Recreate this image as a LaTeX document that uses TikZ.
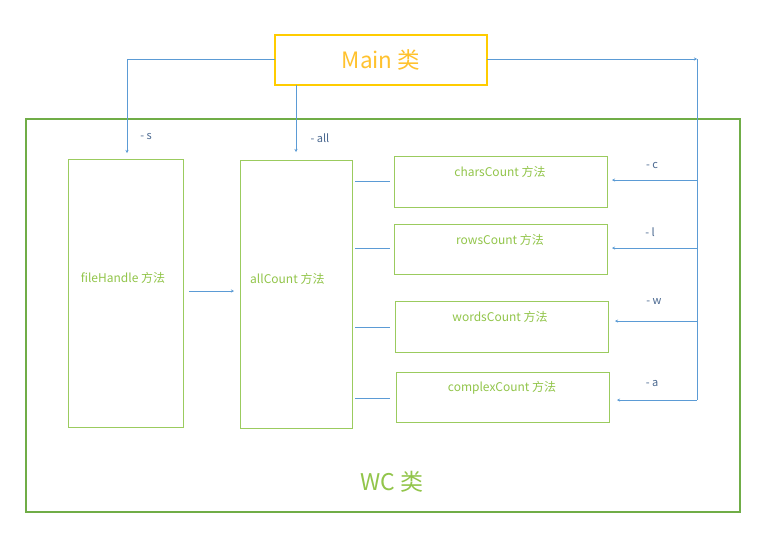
\documentclass[tikz,border=0pt]{standalone}
\usepackage{fontspec}
\setmainfont{Noto Sans CJK SC}
\usetikzlibrary{arrows.meta}
\definecolor{conn}{HTML}{5B9BD5}
\definecolor{outergreen}{HTML}{70AD47}
\definecolor{boxgreen}{HTML}{9BCB5E}
\definecolor{txtgreen}{HTML}{92C54A}
\definecolor{mainyellow}{HTML}{FFCC00}
\definecolor{maintext}{HTML}{FFC22E}
\definecolor{lbl}{HTML}{4A6890}
\tikzset{
  methodbox/.style={draw=boxgreen, line width=0.8pt, rectangle},
  mtext/.style={text=txtgreen, font=\fontsize{12}{14}\selectfont, inner sep=0pt},
  conline/.style={draw=conn, line width=0.7pt},
  conarrow/.style={conline, -{Stealth[length=3pt,width=3pt]}},
  lbltext/.style={text=lbl, font=\fontsize{11}{13}\selectfont, inner sep=0pt}
}
\begin{document}
\begin{tikzpicture}[x=1pt,y=-1pt]
\useasboundingbox (0,0) rectangle (767,542);
\fill[white] (0,0) rectangle (767,542);
% outer WC box
\draw[draw=outergreen, line width=1.6pt] (26,119) rectangle (740,512);
\node[text=txtgreen, font=\fontsize{23}{26}\selectfont, inner sep=0pt] (wc) at (392,482) {WC 类};
% Main box
\draw[draw=mainyellow, line width=1.1pt] (275,35) rectangle (487,85);
\node[text=maintext, font=\fontsize{22.5}{26}\selectfont, inner sep=0pt] (maintxt) at (381,60) {Main 类};
\coordinate (mainL) at (275,59);
\coordinate (mainR) at (487,59);
\coordinate (mainB) at (296,85);
% method boxes
\draw[methodbox] (68,159) rectangle (183,427);
\node[mtext] (fh) at (123,278) {fileHandle 方法};
\draw[methodbox] (240,160) rectangle (352,428);
\node[mtext, anchor=west] (ac) at (250,279) {allCount 方法};
\draw[methodbox] (394,156) rectangle (607,207);
\node[mtext] (cc) at (500,172) {charsCount 方法};
\draw[methodbox] (394,224) rectangle (607,274);
\node[mtext] (rc) at (500,240) {rowsCount 方法};
\draw[methodbox] (395,301) rectangle (608,352);
\node[mtext] (wcnt) at (500,317) {wordsCount 方法};
\draw[methodbox] (396,372) rectangle (609,422);
\node[mtext] (cx) at (502,388) {complexCount 方法};
% connectors from Main
\coordinate (sEnd) at (127,153);
\coordinate (allEnd) at (296,152);
\draw[conarrow] (mainL) -| (sEnd);
\draw[conarrow] (mainB) -- (allEnd);
\coordinate (rTop) at (697,59);
\draw[conarrow] (mainR) -- (rTop);
\coordinate (rBot) at (697,400);
\draw[conline] (rTop) -- (rBot);
\node[lbltext] (ls) at (146,137) {- s};
\node[lbltext] (lall) at (320,138) {- all};
% fileHandle -> allCount
\coordinate (fhA) at (189,291);
\coordinate (acA) at (234,291);
\draw[conarrow] (fhA) -- (acA);
% allCount -> methods lines
\foreach \yy in {181,248,327,398}{
  \draw[conline] (355,\yy) -- (390,\yy);
}
% right branch arrows
\coordinate (bc) at (697,180);
\coordinate (bl) at (697,248);
\coordinate (bw) at (697,321);
\coordinate (ba) at (697,400);
\coordinate (tc) at (612,180);
\coordinate (tl) at (612,248);
\coordinate (tw) at (615,321);
\coordinate (ta) at (617,400);
\draw[conarrow] (bc) -- (tc);
\draw[conarrow] (bl) -- (tl);
\draw[conarrow] (bw) -- (tw);
\draw[conarrow] (ba) -- (ta);
\node[lbltext] (lc) at (652,165) {- c};
\node[lbltext] (ll) at (650,232) {- l};
\node[lbltext] (lw) at (654,302) {- w};
\node[lbltext] (la) at (652,383) {- a};
\end{tikzpicture}
\end{document}
